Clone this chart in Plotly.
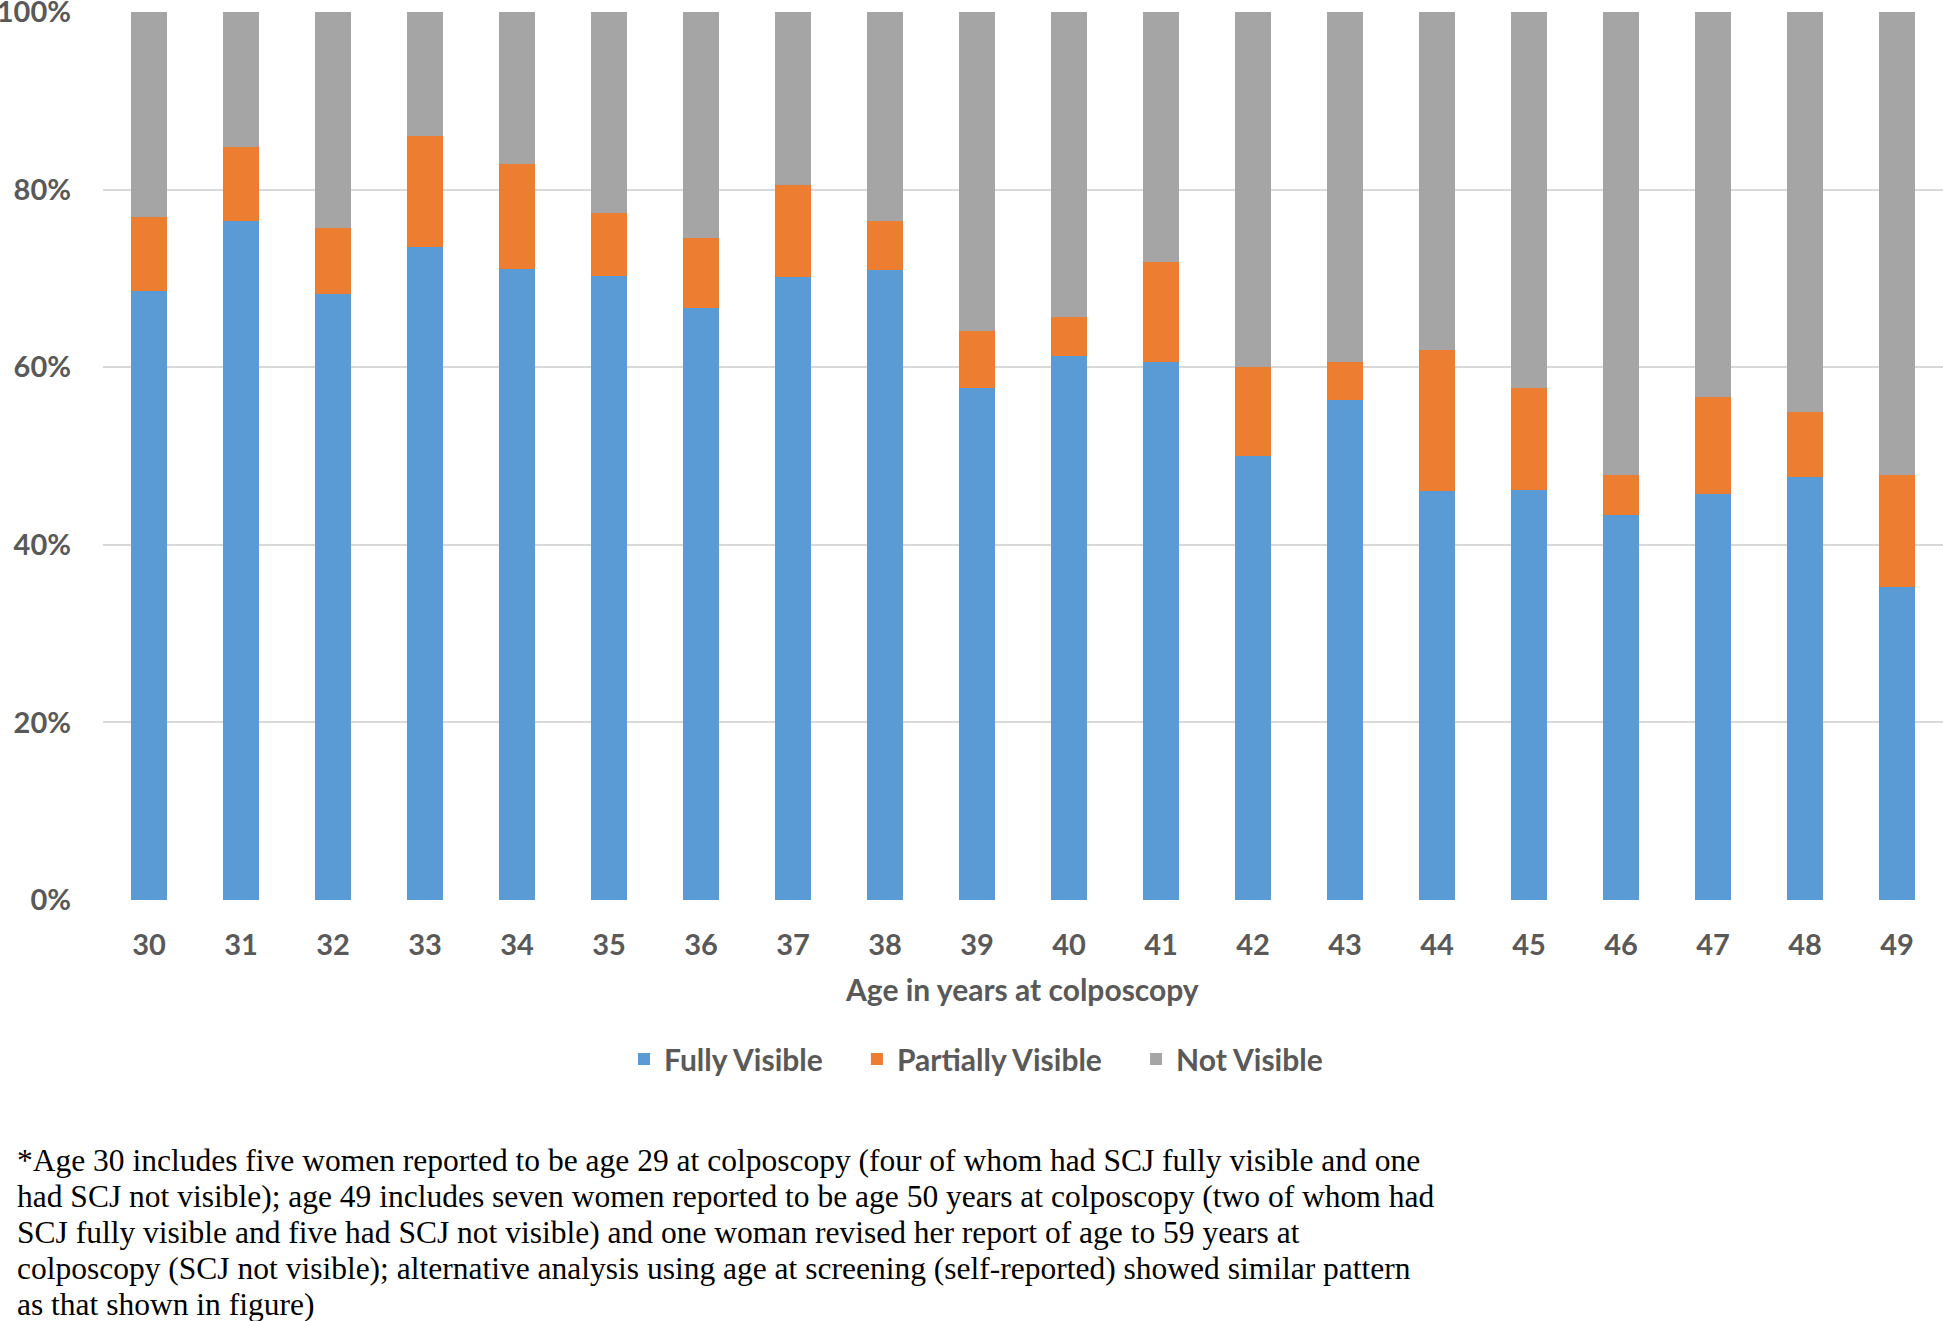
import plotly.graph_objects as go

ages = [str(a) for a in range(30, 50)]
fully_visible = [68.6, 76.5, 68.3, 73.5, 71.1, 70.3, 66.7, 70.2, 70.9, 57.7,
                 61.3, 60.6, 50.0, 56.3, 46.1, 46.2, 43.4, 45.7, 47.6, 35.3]
partially_visible = [8.3, 8.3, 7.4, 12.5, 11.8, 7.1, 7.8, 10.3, 5.6, 6.4,
                     4.3, 11.3, 10.0, 4.3, 15.8, 11.5, 4.5, 10.9, 7.4, 12.6]
not_visible = [23.1, 15.2, 24.3, 14.0, 17.1, 22.6, 25.5, 19.5, 23.5, 35.9,
               34.4, 28.1, 40.0, 39.4, 38.1, 42.3, 52.1, 43.4, 45.0, 52.1]
y_ticks = [0, 20, 40, 60, 80, 100]
y_tick_labels = ["0%", "20%", "40%", "60%", "80%", "100%"]
footnote_lines = [
    "*Age 30 includes five women reported to be age 29 at colposcopy (four of whom had SCJ fully visible and one",
    "had SCJ not visible); age 49 includes seven women reported to be age 50 years at colposcopy (two of whom had",
    "SCJ fully visible and five had SCJ not visible) and one woman revised her report of age to 59 years at",
    "colposcopy (SCJ not visible); alternative analysis using age at screening (self-reported) showed similar pattern",
    "as that shown in figure)",
]

W, H = 1943, 1321
L, R, T = 103, 0, 12
B = H - 900
PW, PH = W - L - R, H - T - B


def px(x):
    return (x - L) / PW


def py(y):
    return (H - B - y) / PH


TXT = "#595959"
FONT = "Lato"
FS = 30
TFS = 29
SP = "\u00a0" * 4

fig = go.Figure()
for name, vals, col in [("Fully Visible" + SP, fully_visible, "#5B9BD5"),
                        ("Partially Visible" + SP, partially_visible, "#ED7D31"),
                        ("Not Visible", not_visible, "#A5A5A5")]:
    fig.add_trace(go.Bar(x=ages, y=vals, name=name, marker=dict(color=col, line=dict(width=0))))

fig.update_layout(
    width=W, height=H, barmode="stack", bargap=0.6,
    margin=dict(l=L, r=R, t=T, b=B, autoexpand=False),
    paper_bgcolor="white", plot_bgcolor="white",
    font=dict(family=FONT, color=TXT, size=FS, weight="bold"),
    showlegend=True,
    legend=dict(orientation="h", x=px(976), y=py(1059), xanchor="center", yanchor="middle",
                font=dict(size=FS, color=TXT, family=FONT, weight="bold"), traceorder="normal",
                itemwidth=30),
    xaxis=dict(showgrid=False, zeroline=False, showline=False, ticks="", automargin=False,
               tickfont=dict(size=TFS, color=TXT, family=FONT, weight="bold"),
               ticklabelstandoff=25, ticklabeloverflow="allow"),
    yaxis=dict(range=[0, 100], tickvals=y_ticks, ticktext=y_tick_labels, automargin=False,
               showgrid=True, gridcolor="#D9D9D9", gridwidth=1.5, zeroline=False,
               showline=False, ticks="",
               tickfont=dict(size=TFS, color=TXT, family=FONT, weight="bold"),
               ticklabelstandoff=31, ticklabeloverflow="allow"),
)

fig.add_annotation(text="Age in years at colposcopy", xref="paper", yref="paper",
                   x=px(1022), y=py(989), xanchor="center", yanchor="middle", showarrow=False,
                   font=dict(size=FS, color=TXT, family=FONT, weight="bold"))

for i, line in enumerate(footnote_lines):
    fig.add_annotation(text=line, xref="paper", yref="paper",
                       x=px(15), y=py(1160 + 36 * i), xanchor="left", yanchor="middle",
                       showarrow=False, align="left",
                       font=dict(size=31.5, color="black", family="Liberation Serif", weight="normal"))

fig.write_html("out.html", config={"displayModeBar": False},
               post_script="document.body.style.margin='0';document.body.style.overflow='hidden';")
